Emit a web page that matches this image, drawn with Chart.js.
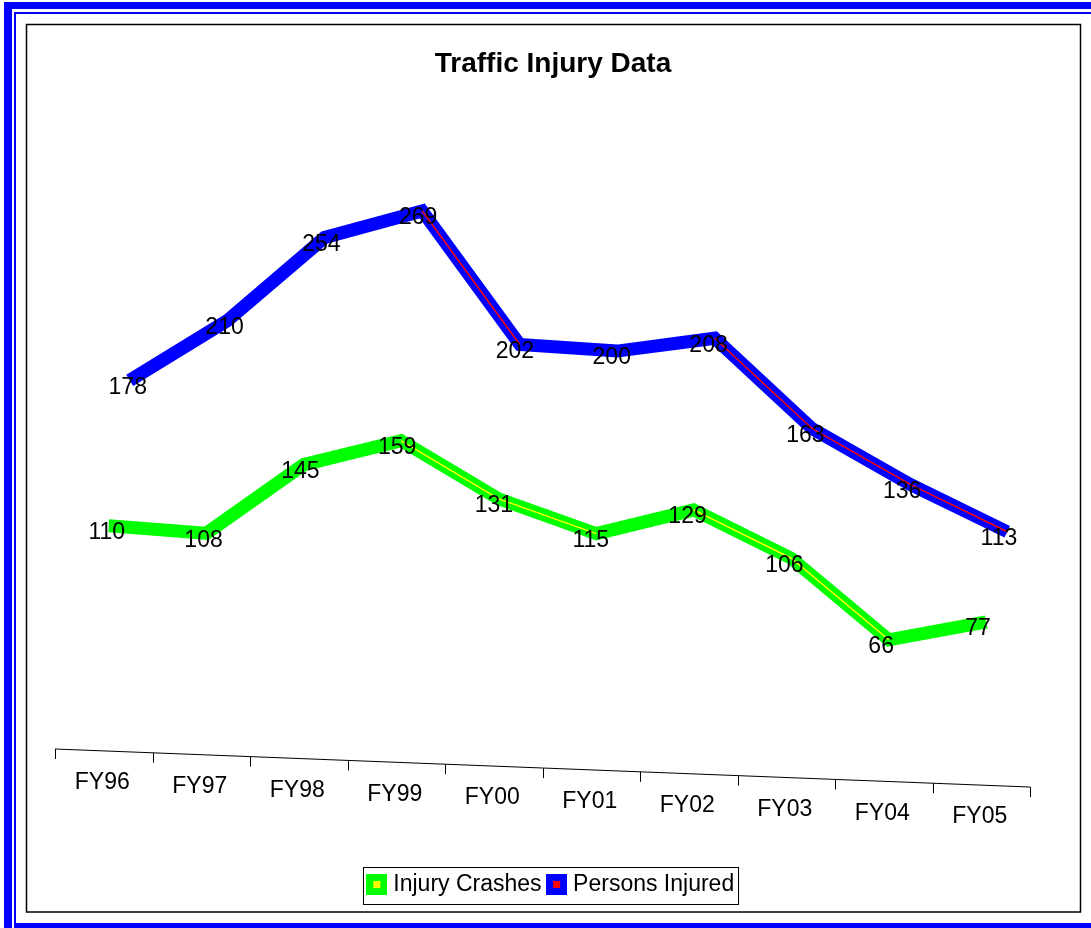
<!DOCTYPE html>
<html>
<head>
<meta charset="utf-8">
<title>Traffic Injury Data</title>
<script src="https://cdn.jsdelivr.net/npm/chart.js@4.4.1/dist/chart.umd.min.js"></script>
<style>
  html, body { margin: 0; padding: 0; background: #fff; }
  canvas { display: block; }
</style>
</head>
<body>
<canvas id="injuryChart" width="1091" height="928"></canvas>
<script>
const categories = ['FY96', 'FY97', 'FY98', 'FY99', 'FY00', 'FY01', 'FY02', 'FY03', 'FY04', 'FY05'];
const injuryCrashes = [110, 108, 145, 159, 131, 115, 129, 106, 66, 77];
const personsInjured = [178, 210, 254, 269, 202, 200, 208, 163, 136, 113];

// fake 3D: each series is pushed back and sheared a bit
const depth = {
  crashes: { dx: 5, dy: -6.5, skew: 0.036 },
  persons: { dx: 26, dy: -19.3, skew: 0.028 }
};
const axisSkew = 0.039;
const FONT = '"Liberation Sans", Arial, sans-serif';

Chart.defaults.font.family = FONT;
Chart.defaults.color = '#000';

function swatch(outer, inner) {
  const c = document.createElement('canvas');
  c.width = 21; c.height = 21;
  const g = c.getContext('2d');
  g.fillStyle = outer;
  g.fillRect(0, 0, 21, 21);
  g.fillStyle = inner;
  g.fillRect(7, 7, 7, 7);
  return c;
}

// thin edge line only shows on the falling stretches
function dropColor(color) {
  return c => (c.p1.parsed.y < c.p0.parsed.y - 10 ? color : 'rgba(0,0,0,0)');
}

const frame = {
  id: 'frame',
  beforeDraw(chart) {
    const ctx = chart.ctx, W = chart.width, H = chart.height;
    ctx.save();
    ctx.fillStyle = '#fff';
    ctx.fillRect(0, 0, W, H);
    ctx.fillStyle = '#0000ff';
    ctx.fillRect(4, 2, W - 4, 7);
    ctx.fillRect(4, 2, 8, H - 2);
    ctx.fillRect(14, 12, W - 14, 2);
    ctx.fillRect(14, 12, 2, H - 12);
    ctx.fillRect(14, 923, W - 14, 5);
    ctx.strokeStyle = '#000';
    ctx.lineWidth = 1.5;
    ctx.strokeRect(26.5, 24.5, 1054, 887.5);
    ctx.restore();
  },
  afterDraw(chart) {
    const ctx = chart.ctx;
    const hb = chart.legend.legendHitBoxes;
    if (hb && hb.length) {
      const last = hb[hb.length - 1];
      ctx.save();
      ctx.strokeStyle = '#000';
      ctx.lineWidth = 1;
      const l = Math.round(hb[0].left - 9) + 0.5;
      const r = Math.round(last.left + last.width + 4) + 0.5;
      const t = Math.round(hb[0].top - 6) + 0.5;
      const b = Math.round(hb[0].top + hb[0].height + 8) + 0.5;
      ctx.strokeRect(l, t, r - l, b - t);
      ctx.restore();
    }
  }
};

const depthLines = {
  id: 'depthLines',
  beforeDatasetDraw(chart, args) {
    const d = depth[chart.data.datasets[args.index].series];
    const x0 = chart.scales.x.getPixelForValue(0);
    chart.ctx.save();
    chart.ctx.transform(1, d.skew, 0, 1, d.dx, d.dy - d.skew * x0);
  },
  afterDatasetDraw(chart) {
    chart.ctx.restore();
  },
  afterDatasetsDraw(chart) {
    const ctx = chart.ctx;
    const xs = chart.scales.x;
    const area = chart.chartArea;
    const x0 = xs.getPixelForValue(0);
    const axisY = x => area.bottom + 2 + axisSkew * (x - area.left);

    ctx.save();
    // tilted category axis
    ctx.strokeStyle = '#000';
    ctx.lineWidth = 1;
    ctx.beginPath();
    ctx.moveTo(area.left, axisY(area.left));
    ctx.lineTo(area.right, axisY(area.right));
    for (let i = 0; i <= categories.length; i++) {
      const x = Math.round(xs.getPixelForValue(i - 0.5)) + 0.5;
      ctx.moveTo(x, axisY(x));
      ctx.lineTo(x, axisY(x) + 10);
    }
    ctx.stroke();

    ctx.fillStyle = '#000';
    ctx.font = '23px ' + FONT;
    ctx.textAlign = 'center';
    ctx.textBaseline = 'middle';
    categories.forEach((c, i) => {
      const x = xs.getPixelForValue(i) - 1.5;
      ctx.fillText(c, x, axisY(x) + 32);
    });

    // value labels
    chart.data.datasets.forEach((ds, i) => {
      if (ds.edge) return;
      const d = depth[ds.series];
      chart.getDatasetMeta(i).data.forEach((pt, j) => {
        const X = pt.x + d.dx - 5 + 3 - j * 0.7;
        const Y = pt.y + d.skew * (pt.x - x0) + d.dy + 7;
        ctx.fillText(String(ds.data[j]), X, Y);
      });
    });
    ctx.restore();
  }
};

const ctx = document.getElementById('injuryChart').getContext('2d');
const injuryChart = new Chart(ctx, {
  type: 'line',
  data: {
    labels: categories,
    datasets: [
      {
        label: 'Injury Crashes',
        data: injuryCrashes,
        series: 'crashes',
        borderColor: '#00ff00',
        backgroundColor: '#00ff00',
        borderWidth: 13,
        pointRadius: 0,
        pointStyle: swatch('#00ff00', '#ffff00'),
        borderJoinStyle: 'miter',
        clip: false,
        order: 1
      },
      {
        label: 'Persons Injured',
        data: personsInjured,
        series: 'persons',
        borderColor: '#0000ff',
        backgroundColor: '#0000ff',
        borderWidth: 13,
        pointRadius: 0,
        pointStyle: swatch('#0000ff', '#ff0000'),
        borderJoinStyle: 'miter',
        clip: false,
        order: 1
      },
      {
        label: 'crashes edge',
        data: injuryCrashes,
        series: 'crashes',
        edge: true,
        borderColor: '#ffff00',
        borderWidth: 1.5,
        pointRadius: 0,
        segment: { borderColor: dropColor('#ffff00') },
        clip: false,
        order: 0
      },
      {
        label: 'persons edge',
        data: personsInjured,
        series: 'persons',
        edge: true,
        borderColor: '#ff0000',
        borderWidth: 1.5,
        pointRadius: 0,
        segment: { borderColor: dropColor('#ff0000') },
        clip: false,
        order: 0
      }
    ]
  },
  options: {
    responsive: false,
    animation: false,
    devicePixelRatio: 1,
    layout: { padding: { left: 26, right: 11, top: 24, bottom: 22 } },
    plugins: {
      title: {
        display: true,
        text: 'Traffic Injury Data',
        color: '#000',
        font: { size: 28, weight: 'bold' },
        padding: { top: 23, bottom: 81 }
      },
      legend: {
        position: 'bottom',
        labels: {
          filter: item => item.datasetIndex < 2,
          usePointStyle: true,
          pointStyleWidth: 10,
          boxHeight: 21,
          padding: 10,
          color: '#000',
          font: { size: 23 }
        }
      },
      tooltip: { enabled: false }
    },
    scales: {
      x: {
        position: 'bottom',
        offset: true,
        ticks: { display: false },
        grid: { display: false },
        border: { display: false },
        afterFit: s => { s.height = 116; }
      },
      y: {
        position: 'left',
        min: 0,
        max: 300,
        ticks: { display: false },
        grid: { display: false },
        border: { display: false },
        afterFit: s => { s.width = 29; }
      },
      yRight: {
        position: 'right',
        ticks: { display: false },
        grid: { display: false },
        border: { display: false },
        afterFit: s => { s.width = 50; }
      }
    }
  },
  plugins: [frame, depthLines]
});
</script>
</body>
</html>
